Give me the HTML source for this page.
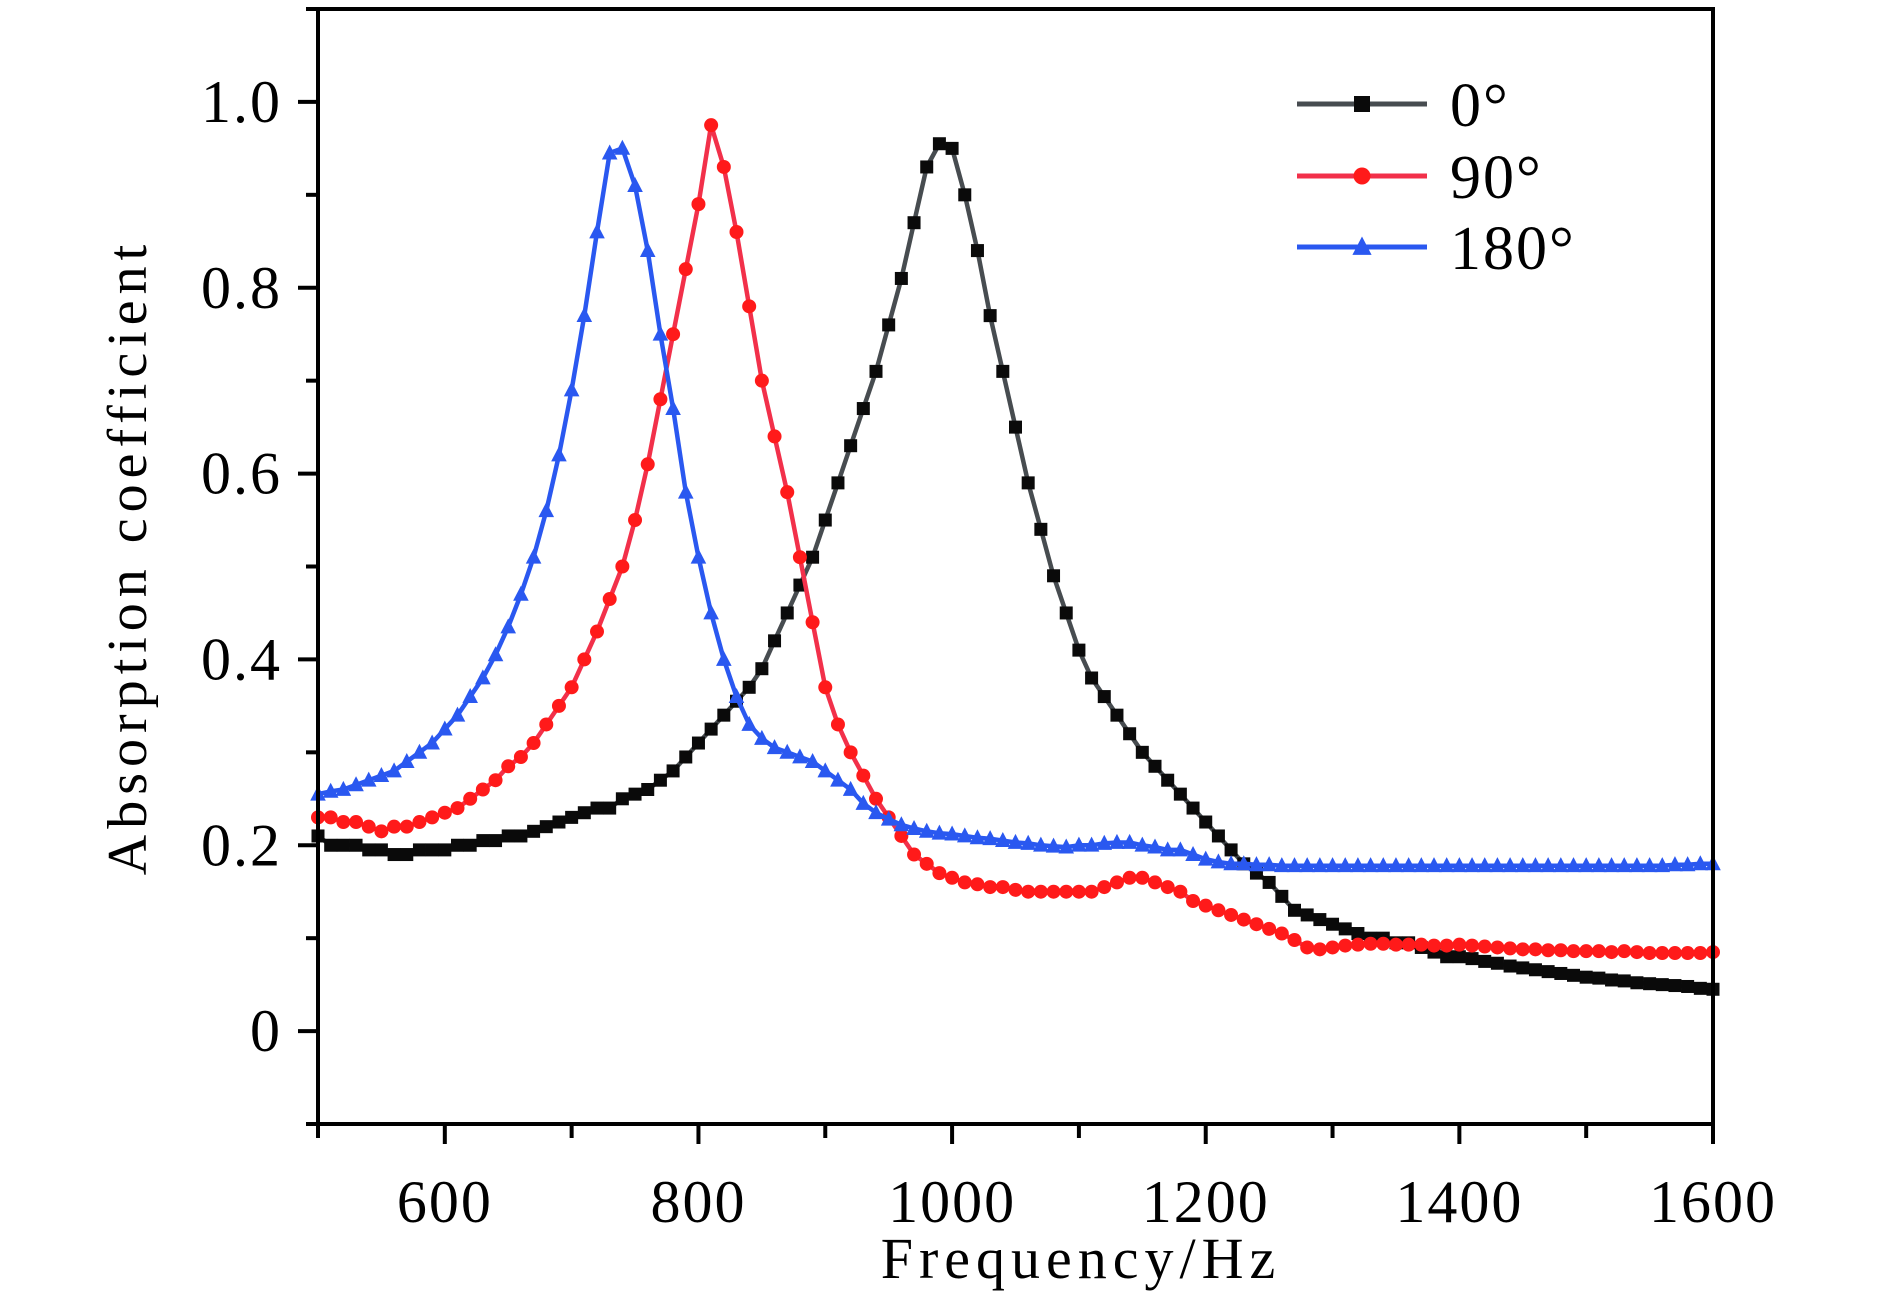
<!DOCTYPE html>
<html><head><meta charset="utf-8"><style>
html,body{margin:0;padding:0;background:#fff;}
svg{display:block;}
text{font-family:"Liberation Serif",serif;fill:#000;}
</style></head><body>
<svg id="chart" width="1890" height="1299" viewBox="0 0 1890 1299" xmlns="http://www.w3.org/2000/svg">
<g id="marks"></g>
<g id="axes"></g>
<g id="legend"></g>
</svg>
<script>
const freqStart = 500, freqStep = 10;
const seriesNames = ["0°", "90°", "180°"];
const s0 = [0.21,0.20,0.20,0.20,0.195,0.195,0.19,0.19,0.195,0.195,0.195,0.20,0.20,0.205,0.205,0.21,0.21,0.215,0.22,0.225,0.23,0.235,0.24,0.24,0.25,0.255,0.26,0.27,0.28,0.295,0.31,0.325,0.34,0.355,0.37,0.39,0.42,0.45,0.48,0.51,0.55,0.59,0.63,0.67,0.71,0.76,0.81,0.87,0.93,0.955,0.95,0.90,0.84,0.77,0.71,0.65,0.59,0.54,0.49,0.45,0.41,0.38,0.36,0.34,0.32,0.30,0.285,0.27,0.255,0.24,0.225,0.21,0.195,0.18,0.17,0.16,0.145,0.13,0.125,0.12,0.115,0.11,0.105,0.10,0.10,0.095,0.095,0.09,0.085,0.08,0.08,0.078,0.075,0.073,0.07,0.068,0.066,0.064,0.062,0.06,0.058,0.057,0.055,0.054,0.052,0.051,0.05,0.049,0.048,0.046,0.045];
const s90 = [0.23,0.23,0.225,0.225,0.22,0.215,0.22,0.22,0.225,0.23,0.235,0.24,0.25,0.26,0.27,0.285,0.295,0.31,0.33,0.35,0.37,0.40,0.43,0.465,0.50,0.55,0.61,0.68,0.75,0.82,0.89,0.975,0.93,0.86,0.78,0.70,0.64,0.58,0.51,0.44,0.37,0.33,0.30,0.275,0.25,0.23,0.21,0.19,0.18,0.17,0.165,0.16,0.158,0.155,0.155,0.152,0.15,0.15,0.15,0.15,0.15,0.15,0.155,0.16,0.165,0.165,0.16,0.155,0.15,0.14,0.135,0.13,0.125,0.12,0.115,0.11,0.105,0.098,0.09,0.088,0.09,0.092,0.093,0.094,0.094,0.093,0.093,0.093,0.092,0.092,0.093,0.092,0.091,0.09,0.089,0.088,0.088,0.087,0.087,0.086,0.086,0.086,0.085,0.086,0.085,0.084,0.084,0.084,0.084,0.084,0.085];
const s180 = [0.255,0.258,0.26,0.265,0.27,0.275,0.28,0.29,0.30,0.31,0.325,0.34,0.36,0.38,0.405,0.435,0.47,0.51,0.56,0.62,0.69,0.77,0.86,0.945,0.95,0.91,0.84,0.75,0.67,0.58,0.51,0.45,0.40,0.36,0.33,0.315,0.305,0.30,0.295,0.29,0.28,0.27,0.26,0.245,0.235,0.228,0.222,0.218,0.215,0.213,0.212,0.21,0.208,0.207,0.205,0.203,0.202,0.2,0.199,0.198,0.2,0.2,0.202,0.203,0.203,0.2,0.198,0.195,0.195,0.19,0.185,0.182,0.18,0.18,0.179,0.179,0.178,0.178,0.178,0.178,0.178,0.178,0.178,0.178,0.178,0.178,0.178,0.178,0.178,0.178,0.178,0.178,0.178,0.178,0.178,0.178,0.178,0.178,0.178,0.178,0.178,0.178,0.178,0.178,0.178,0.178,0.178,0.179,0.179,0.18,0.18];
const xTickLabels = ["600","800","1000","1200","1400","1600"];
const yTickLabels = ["0","0.2","0.4","0.6","0.8","1.0"];

const L=318,R=1713,T=9,B=1124, X0=500,X1=1600,Y0=-0.1,Y1=1.1;
function xs(v){return L+(v-X0)/(X1-X0)*(R-L);}
function ys(v){return B-(v-Y0)/(Y1-Y0)*(B-T);}
const NS="http://www.w3.org/2000/svg";
function mk(tag,attrs,parent){const e=document.createElementNS(NS,tag);for(const k in attrs)e.setAttribute(k,attrs[k]);parent.appendChild(e);return e;}
const marks=document.getElementById('marks'),axes=document.getElementById('axes'),legend=document.getElementById('legend');

function marker(type,x,y,color,sz,parent){
  let e;
  if(type==='square'){e=mk('rect',{x:x-sz/2,y:y-sz/2,width:sz,height:sz,fill:color},parent);}
  else if(type==='circle'){e=mk('circle',{cx:x,cy:y,r:sz/2+0.5,fill:color},parent);}
  else {const h=sz*1.1;e=mk('polygon',{points:`${x},${y-h*0.6} ${x-sz*0.6},${y+h*0.45} ${x+sz*0.6},${y+h*0.45}`,fill:color},parent);}
  return e;
}
const cfg=[{data:s0,line:'#474c50',mc:'#0a0a0a',type:'square',name:'series-0deg'},
 {data:s90,line:'#f2304a',mc:'#ff1a1a',type:'circle',name:'series-90deg'},
 {data:s180,line:'#2a58f0',mc:'#2a58f0',type:'triangle',name:'series-180deg'}];
cfg.forEach((c)=>{
  const g=mk('g',{},marks);
  
  
  const pts=c.data.map((v,i)=>xs(freqStart+i*freqStep).toFixed(1)+','+ys(v).toFixed(1)).join(' ');
  const pl=mk('polyline',{points:pts,fill:'none',stroke:c.line,'stroke-width':4.5,'stroke-linejoin':'round'},g);
  
  
  c.data.forEach((v,i)=>{
    const m=marker(c.type,xs(freqStart+i*freqStep),ys(v),c.mc,13,g);
    
    
  });
});

const fr=mk('rect',{x:L,y:T,width:R-L,height:B-T,fill:'none',stroke:'#000','stroke-width':4},axes);


for(let v=500;v<=1600;v+=100){
  const major=(v%200===0);
  const t=mk('line',{x1:xs(v),x2:xs(v),y1:B,y2:B+(major?20:14),stroke:'#000','stroke-width':4},axes);
  
  
}
xTickLabels.forEach(s=>{
  const t=mk('text',{x:xs(+s),y:1222,'text-anchor':'middle','font-size':60,'letter-spacing':2},axes);
  t.textContent=s;
  
  
});
for(let k=-1;k<=11;k++){
  const v=k/10;const major=(k%2===0);
  const t=mk('line',{x1:L,x2:L-(major?20:12),y1:ys(v),y2:ys(v),stroke:'#000','stroke-width':4},axes);
  
  
}
yTickLabels.forEach(s=>{
  const t=mk('text',{x:282,y:ys(+s)+20,'text-anchor':'end','font-size':60,'letter-spacing':2},axes);
  t.textContent=s;
  
  
});
const xt=mk('text',{x:1081,y:1278,'text-anchor':'middle','font-size':58,'letter-spacing':6},axes);
xt.textContent='Frequency/Hz';


const yt=mk('text',{x:0,y:0,'text-anchor':'middle','font-size':56,'letter-spacing':6,transform:'translate(146,557) rotate(-90)'},axes);
yt.textContent='Absorption coefficient';



const ly=[104,176,247];
cfg.forEach((c,i)=>{
  const g=mk('g',{},legend);
  
  
  mk('line',{x1:1297,x2:1427,y1:ly[i],y2:ly[i],stroke:c.line,'stroke-width':5},g);
  marker(c.type,1362,ly[i],c.mc,16,g);
  const t=mk('text',{x:1450,y:ly[i]+22,'font-size':62,'letter-spacing':2},g);
  t.textContent=seriesNames[i];
});
</script>
</body></html>
